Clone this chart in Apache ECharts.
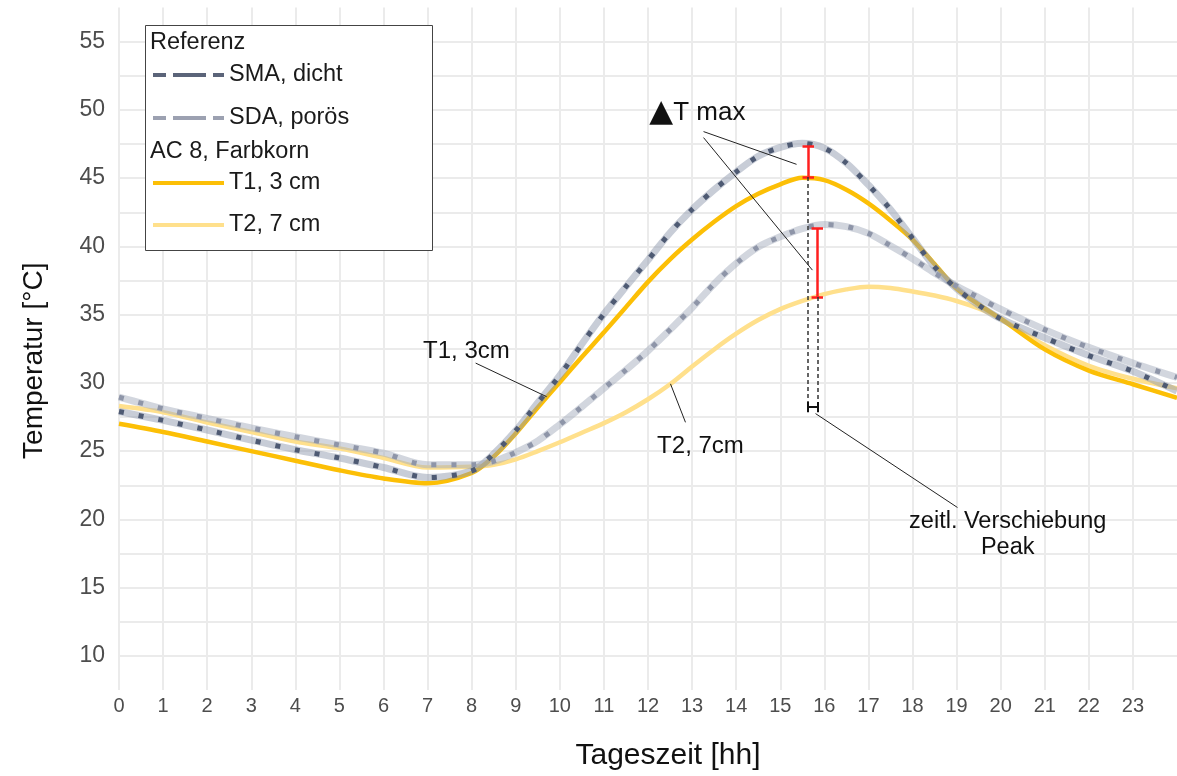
<!DOCTYPE html>
<html>
<head>
<meta charset="utf-8">
<script src="https://cdn.jsdelivr.net/npm/echarts@6/dist/echarts.min.js"></script>
<style>
html,body{margin:0;padding:0;background:#fff;}
#chart{width:1177px;height:776px;}
</style>
</head>
<body>
<div id="chart"></div>
<script>
// Tageszeit [hh]
var hours = [0,1,2,3,4,5,6,7,8,8.5,9,9.5,10,10.5,11,11.5,12,12.5,13,13.5,14,14.5,15,15.5,16,16.5,17,17.5,18,18.5,19,19.5,20,21,22,23,24];
// Referenz
var smaDicht  = [27.9,27.25,26.55,25.8,25.1,24.5,23.8,23.07,23.55,24.8,26.5,28.55,30.55,32.85,35.05,37.05,39.0,41.0,42.7,44.15,45.45,46.6,47.25,47.55,47.2,46.1,44.5,42.7,40.6,38.5,36.9,35.7,34.7,33.3,32.0,30.85,29.4];
var sdaPoroes = [28.95,28.1,27.4,26.7,26.05,25.45,24.85,24.0,24.0,24.25,24.9,25.75,26.95,28.25,29.6,30.95,32.35,33.9,35.5,37.25,38.75,39.95,40.7,41.3,41.6,41.45,40.95,40.05,39.1,38.05,37.1,36.25,35.4,33.9,32.6,31.45,30.4];
// AC 8, Farbkorn
var t1 = [27.0,26.4,25.7,25.0,24.3,23.6,23.0,22.65,23.4,24.6,26.3,28.2,30.05,31.9,33.7,35.55,37.4,39.05,40.5,41.8,42.95,43.85,44.55,45.02,44.85,44.15,43.15,41.9,40.5,38.7,36.9,35.75,34.7,32.45,30.9,29.9,28.9];
var t2 = [28.3,27.85,27.1,26.4,25.7,25.2,24.5,23.8,23.85,24.0,24.4,25.0,25.65,26.35,27.05,27.85,28.8,29.9,31.2,32.45,33.6,34.6,35.4,36.0,36.5,36.85,37.05,36.95,36.7,36.4,36.0,35.45,34.7,32.75,31.25,30.3,29.6];

var yTicks = [10,15,20,25,30,35,40,45,50,55];

var font = 'Liberation Sans, Arial, DejaVu Sans, sans-serif';

function pairs(ys){
	return hours.map(function(h,i){ return [h, ys[i]]; });
}

// Anmerkungen (Datenkoordinaten)
var leaderLines = [
	[[13.26,48.41],[15.37,46.01]],
	[[13.26,47.97],[15.73,38.26]],
	[[8.09,31.45],[9.70,28.99]],
	[[12.51,29.93],[12.85,27.11]],
	[[15.80,27.75],[19.02,20.87]]
];
var deltaBars = [
	{x:15.635, lo:45.09, hi:47.34},
	{x:15.84, lo:36.3, hi:41.33}
];
var peakDrops = [
	{x:15.635, from:45.09, to:28.3},
	{x:15.84, from:36.3, to:28.3}
];
var shiftBar = {x1:15.635, x2:15.84, y:28.22};
var notes = [
	{name:'{t|▲}T max', coord:[13.12,49.8], size:26},
	{name:'T1, 3cm', coord:[7.88,32.32], size:24},
	{name:'T2, 7cm', coord:[13.19,25.36], size:24},
	{name:'zeitl. Verschiebung\nPeak', coord:[20.16,18.9], size:23.5}
];

var markLines = [];
leaderLines.forEach(function(l){
	markLines.push([{coord:l[0], lineStyle:{color:'#222', width:1, type:'solid'}},{coord:l[1]}]);
});
deltaBars.forEach(function(b){
	var st = {color:'#ff1f1f', width:2.5, type:'solid'};
	markLines.push([{coord:[b.x,b.lo], lineStyle:st},{coord:[b.x,b.hi]}]);
	markLines.push([{coord:[b.x-0.13,b.lo], lineStyle:st},{coord:[b.x+0.13,b.lo]}]);
	markLines.push([{coord:[b.x-0.13,b.hi], lineStyle:st},{coord:[b.x+0.13,b.hi]}]);
});
peakDrops.forEach(function(d){
	markLines.push([{coord:[d.x,d.from], lineStyle:{color:'#333', width:1.5, type:[4,3]}},{coord:[d.x,d.to]}]);
});
(function(){
	var st = {color:'#111', width:2, type:'solid'};
	markLines.push([{coord:[shiftBar.x1,shiftBar.y], lineStyle:st},{coord:[shiftBar.x2,shiftBar.y]}]);
	markLines.push([{coord:[shiftBar.x1,shiftBar.y-0.38], lineStyle:st},{coord:[shiftBar.x1,shiftBar.y+0.38]}]);
	markLines.push([{coord:[shiftBar.x2,shiftBar.y-0.38], lineStyle:st},{coord:[shiftBar.x2,shiftBar.y+0.38]}]);
})();

var legendDash = [13,7,33,7,12,0];
var noSymbol = {opacity:0};

var myChart = echarts.init(document.getElementById('chart'));

var option = {
	backgroundColor:'#fff',
	animation:false,
	grid:{left:119, right:0, top:7.5, bottom:78.5},
	xAxis:{
		type:'value', min:0, max:24, interval:1,
		name:'Tageszeit [hh]', nameLocation:'middle', nameGap:51,
		nameTextStyle:{fontSize:30, color:'#111', fontFamily:font, padding:[0,0,0,40]},
		axisLine:{show:false}, axisTick:{show:false},
		axisLabel:{color:'#4d4d4d', fontSize:20, fontFamily:font, margin:6, showMaxLabel:false},
		splitLine:{show:true, showMaxLine:false, lineStyle:{color:'#ebebeb', width:2}}
	},
	yAxis:{
		type:'value', min:7.5, max:57.5, interval:2.5,
		name:'Temperatur [°C]', nameLocation:'middle', nameGap:71,
		nameTextStyle:{fontSize:28, color:'#111', fontFamily:font, padding:[0,24,0,0]},
		axisLine:{show:false}, axisTick:{show:false},
		axisLabel:{color:'#4d4d4d', fontSize:23, fontFamily:font, margin:14,
			formatter:function(v){ return yTicks.indexOf(v) >= 0 ? String(v) : ''; }},
		splitLine:{show:true, showMinLine:false, showMaxLine:false, lineStyle:{color:'#ebebeb', width:2}}
	},
	legend:[
		{
			left:151, top:63, orient:'vertical', padding:0, itemGap:19,
			itemWidth:71, itemHeight:14, selectedMode:false, z:6,
			textStyle:{fontSize:23.5, color:'#1a1a1a', fontFamily:font, lineHeight:20},
			data:[
				{name:'SMA, dicht', itemStyle:noSymbol, lineStyle:{color:'#5b6479', width:4, type:legendDash}},
				{name:'SDA, porös', itemStyle:noSymbol, lineStyle:{color:'#9ca1b1', width:4, type:legendDash}}
			]
		},
		{
			left:151, top:171, orient:'vertical', padding:0, itemGap:18,
			itemWidth:71, itemHeight:14, selectedMode:false, z:6,
			textStyle:{fontSize:23.5, color:'#1a1a1a', fontFamily:font, lineHeight:20},
			data:[
				{name:'T1, 3 cm', itemStyle:noSymbol, lineStyle:{width:4}},
				{name:'T2, 7 cm', itemStyle:noSymbol, lineStyle:{width:4}}
			]
		}
	],
	graphic:[
		{type:'rect', left:145, top:25, z:5, shape:{width:287, height:225},
			style:{fill:'#fff', stroke:'#444', lineWidth:1}},
		{type:'text', left:150, top:31, z:7,
			style:{text:'Referenz', fontSize:23.5, fontFamily:font, fill:'#1a1a1a'}},
		{type:'text', left:150, top:140, z:7,
			style:{text:'AC 8, Farbkorn', fontSize:23.5, fontFamily:font, fill:'#1a1a1a'}}
	],
	series:[
		{name:'T2, 7 cm', type:'line', data:pairs(t2), smooth:0.3, symbol:'none',
			color:'#ffe08c', lineStyle:{color:'#ffe08c', width:4.5}, z:2},
		{name:'T1, 3 cm', type:'line', data:pairs(t1), smooth:0.3, symbol:'none',
			color:'#fcbf06', lineStyle:{color:'#fcbf06', width:4.5}, z:2},
		{name:'SDA band', type:'line', data:pairs(sdaPoroes), smooth:0.3, symbol:'none', silent:true,
			lineStyle:{color:'rgba(165,173,190,0.5)', width:7}, z:3},
		{name:'SDA, porös', type:'line', data:pairs(sdaPoroes), smooth:0.3, symbol:'none',
			color:'#9ca1b1', lineStyle:{color:'#8e95a8', width:5, type:[5,15], cap:'butt'}, z:3},
		{name:'SMA band', type:'line', data:pairs(smaDicht), smooth:0.3, symbol:'none', silent:true,
			lineStyle:{color:'rgba(145,155,175,0.5)', width:7}, z:3},
		{name:'SMA, dicht', type:'line', data:pairs(smaDicht), smooth:0.3, symbol:'none',
			color:'#5b6479', lineStyle:{color:'#4e5a73', width:5, type:[5,15], cap:'butt'}, z:3},
		{name:'Anmerkungen', type:'line', data:[], symbol:'none', silent:true, z:4,
			markLine:{silent:true, symbol:['none','none'], label:{show:false}, animation:false,
				data:markLines},
			markPoint:{silent:true, symbol:'circle', symbolSize:1, itemStyle:{color:'rgba(0,0,0,0)'},
				animation:false,
				data:notes.map(function(n){
					return {name:n.name, coord:n.coord,
						label:{show:true, position:'inside', formatter:'{b}', color:'#111', align:'center',
							fontSize:n.size, fontFamily:font, lineHeight:26,
							rich:{t:{fontSize:31, fontFamily:'DejaVu Sans', color:'#111', lineHeight:30}}}};
				})}
		}
	]
};

if(option && typeof option === 'object'){
	myChart.setOption(option, true);
}
</script>
</body>
</html>
